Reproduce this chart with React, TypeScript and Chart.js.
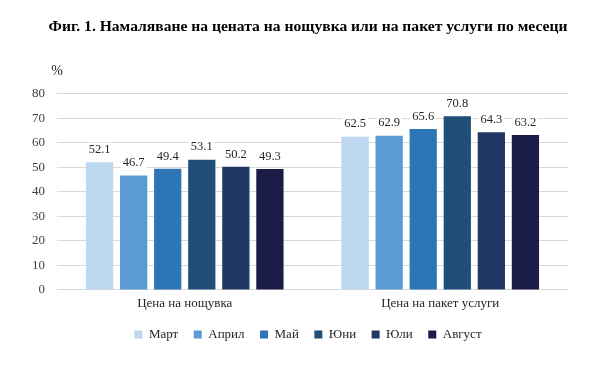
import React, { useEffect, useRef } from "react";
import { Chart, registerables } from "chart.js";

Chart.register(...registerables);

const titleText = "Фиг. 1. Намаляване на цената на нощувка или на пакет услуги по месеци";
const unitLabel = "%";
const categories = ["Цена на нощувка", "Цена на пакет услуги"];
const months = ["Март", "Април", "Май", "Юни", "Юли", "Август"];
const mart = [52.1, 62.5];
const april = [46.7, 62.9];
const may = [49.4, 65.6];
const june = [53.1, 70.8];
const july = [50.2, 64.3];
const august = [49.3, 63.2];
const yTicks = [0, 10, 20, 30, 40, 50, 60, 70, 80];

const seriesValues = [mart, april, may, june, july, august];
const colors = ["#BDD7EE", "#5B9BD5", "#2E75B6", "#1F4E79", "#203864", "#1B1D48"];

const SERIF = "'Liberation Serif', 'Times New Roman', serif";

const labelPlugin = {
  id: "valueLabels",
  afterLayout(chart: any) {
    // centre title and legend over the same span as in the original figure
    const l = 48;
    const r = chart.width - 32;
    if (chart.legend) {
      chart.legend.left = l;
      chart.legend.right = r;
    }
    if (chart.titleBlock) {
      chart.titleBlock.left = l;
      chart.titleBlock.right = r;
    }
  },
  afterDatasetsDraw(chart: any) {
    const ctx = chart.ctx;
    ctx.save();
    ctx.font = `12.5px ${SERIF}`;
    ctx.textAlign = "center";
    ctx.textBaseline = "middle";
    chart.data.datasets.forEach((ds: any, di: number) => {
      const meta = chart.getDatasetMeta(di);
      meta.data.forEach((bar: any, i: number) => {
        const txt = Number(ds.data[i]).toFixed(1);
        const w = ctx.measureText(txt).width;
        const cx = bar.x;
        const cy = bar.y - 12.5;
        ctx.fillStyle = "#ffffff";
        ctx.fillRect(cx - w / 2 - 2, cy - 7, w + 4, 14);
        ctx.fillStyle = "#262626";
        ctx.fillText(txt, cx, cy);
      });
    });
    const area = chart.chartArea;
    ctx.font = `14px ${SERIF}`;
    ctx.fillStyle = "#262626";
    ctx.fillText(unitLabel, area.left, area.top - 22);
    ctx.restore();
  },
};

export default function App() {
  const ref = useRef<HTMLCanvasElement>(null);
  useEffect(() => {
    document.body.style.margin = "0";
    const chart = new Chart(ref.current as HTMLCanvasElement, {
      type: "bar",
      data: {
        labels: categories,
        datasets: months.map((m, i) => ({
          label: m,
          data: seriesValues[i],
          backgroundColor: colors[i],
          borderWidth: 0,
          barPercentage: 0.8,
          categoryPercentage: 0.8,
        })),
      },
      options: {
        responsive: false,
        animation: false,
        layout: { padding: { left: 0, right: 32, top: 0, bottom: 14 } },
        scales: {
          x: {
            grid: { display: false, drawTicks: false },
            border: { display: false },
            ticks: { font: { family: SERIF, size: 13 }, color: "#262626", padding: 6 },
            afterFit(scale: any) {
              scale.height = scale.height - 5;
            },
          },
          y: {
            min: 0,
            max: 80,
            afterBuildTicks(scale: any) {
              scale.ticks = yTicks.map((v) => ({ value: v }));
            },
            grid: { color: "#d9d9d9", drawTicks: false },
            border: { display: false },
            ticks: { font: { family: SERIF, size: 13 }, color: "#404040", padding: 12 },
            afterFit(scale: any) {
              scale.width = 57;
            },
          },
        },
        plugins: {
          legend: {
            position: "bottom",
            labels: {
              boxWidth: 8,
              boxHeight: 8,
              padding: 15.5,
              font: { family: SERIF, size: 13 },
              color: "#262626",
            },
          },
          title: {
            display: true,
            text: titleText,
            font: { family: SERIF, size: 15.6, weight: "bold" },
            color: "#000000",
            padding: { top: 18, bottom: 57 },
          },
          tooltip: { enabled: false },
        },
      },
      plugins: [labelPlugin],
    } as any);
    return () => chart.destroy();
  }, []);
  return <canvas ref={ref} width={600} height={365} style={{ display: "block" }} />;
}
